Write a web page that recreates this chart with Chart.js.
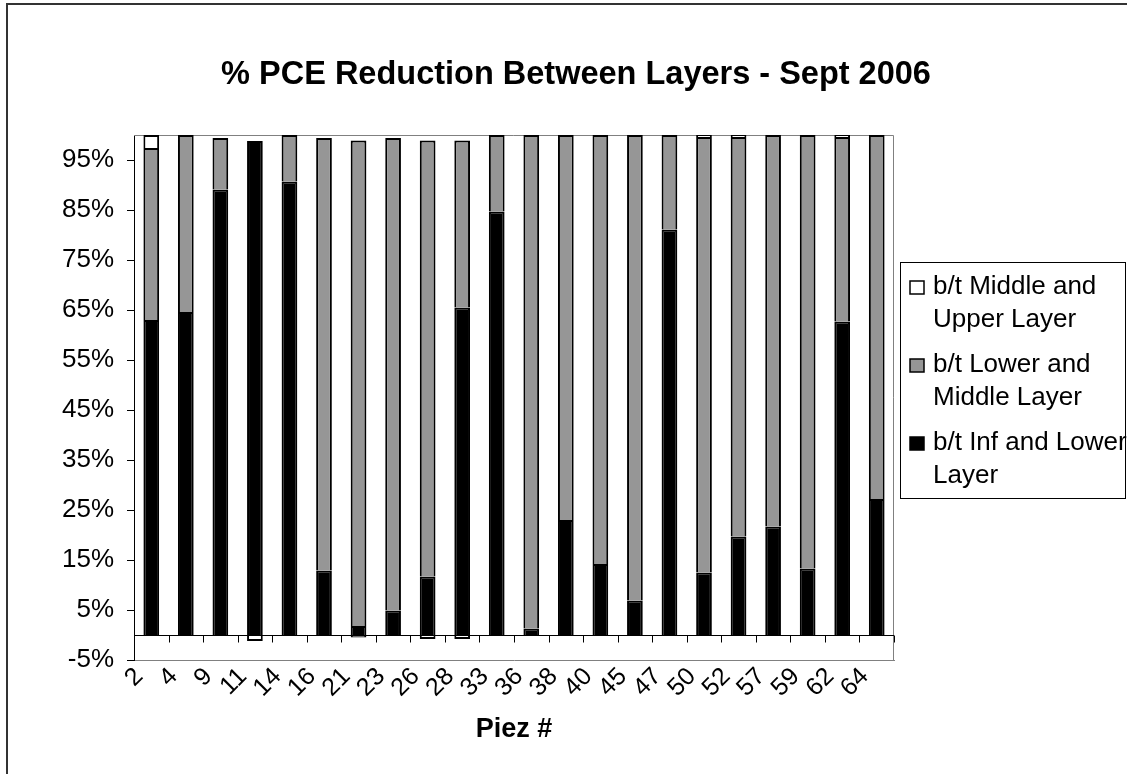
<!DOCTYPE html>
<html>
<head>
<meta charset="utf-8">
<title>% PCE Reduction Between Layers - Sept 2006</title>
<script src="https://cdn.jsdelivr.net/npm/chart.js@4.4.1/dist/chart.umd.min.js"></script>
<style>
  html, body { margin: 0; padding: 0; background: #ffffff; }
  #wrap { width: 1127px; height: 774px; position: relative; overflow: hidden; }
  canvas { display: block; }
</style>
</head>
<body>
<div id="wrap"><canvas id="chart" width="1127" height="774"></canvas></div>
<script>
// Piezometer numbers along the horizontal axis
const piezLabels = ['2', '4', '9', '11', '14', '16', '21', '23', '26', '28', '33',
                    '36', '38', '40', '45', '47', '50', '52', '57', '59', '62', '64'];

// % PCE reduction between influent and lower layer
const infToLower = [63.0, 64.6, 89.1, 98.8, 90.7, 12.9, 1.8, 4.9, 11.7, 65.5, 84.7,
                    1.3, 23.0, 14.2, 6.9, 81.1, 12.5, 19.7, 21.7, 13.3, 62.7, 27.2];

// % PCE reduction between lower and middle layer
const lowerToMiddle = [34.4, 35.4, 10.3, null, 9.3, 86.5, 97.1, 94.5, 87.2, 33.4, 15.3,
                       98.7, 77.0, 85.8, 93.1, 18.9, 87.1, 79.9, 78.3, 86.7, 36.9, 72.8];

// % PCE reduction between middle and upper layer
const middleToUpper = [2.6, null, null, -1.2, null, null, -0.5, null, -0.8, -0.8, null,
                       null, null, null, null, null, 0.4, 0.4, null, null, 0.4, null];

// Value-axis tick positions (percent)
const yTickValues = [-5, 5, 15, 25, 35, 45, 55, 65, 75, 85, 95];

const FONT = "'Liberation Sans', Arial, Helvetica, sans-serif";

// Frame, plot-area border, zero line, title and legend box
const decorations = {
  id: 'decorations',
  beforeDraw(chart) {
    const ctx = chart.ctx;
    ctx.save();
    ctx.fillStyle = '#ffffff';
    ctx.fillRect(0, 0, chart.width, chart.height);
    ctx.strokeStyle = '#333333';
    ctx.lineWidth = 2;
    ctx.strokeRect(7, 4, 1136, 800);
    ctx.restore();
  },
  beforeDatasetsDraw(chart) {
    const { ctx, chartArea: a } = chart;
    ctx.save();
    ctx.strokeStyle = '#808080';
    ctx.lineWidth = 1;
    ctx.beginPath();
    ctx.moveTo(a.left, a.top + 0.5);
    ctx.lineTo(a.right - 0.5, a.top + 0.5);
    ctx.lineTo(a.right - 0.5, a.bottom);
    ctx.stroke();
    ctx.restore();
  },
  afterDatasetsDraw(chart) {
    const { ctx, chartArea: a, scales } = chart;
    const y0 = Math.round(scales.y.getPixelForValue(0)) + 0.5;
    ctx.save();
    ctx.strokeStyle = '#000000';
    ctx.lineWidth = 1;
    ctx.beginPath();
    ctx.moveTo(a.left, y0);
    ctx.lineTo(a.right, y0);
    for (let i = 1; i <= piezLabels.length; i++) {
      const x = Math.round(scales.x.getPixelForValue(i - 0.5)) + 0.5;
      ctx.moveTo(x, y0);
      ctx.lineTo(x, y0 + 7);
    }
    ctx.stroke();
    ctx.restore();
  },
  afterDraw(chart) {
    const ctx = chart.ctx;
    ctx.save();
    // Title
    ctx.fillStyle = '#000000';
    ctx.font = 'bold 32.5px ' + FONT;
    ctx.textAlign = 'center';
    ctx.textBaseline = 'middle';
    ctx.fillText('% PCE Reduction Between Layers - Sept 2006', 576, 75);

    // Legend
    const box = { x: 900, y: 262, w: 225, h: 236 };
    ctx.strokeStyle = '#000000';
    ctx.lineWidth = 1;
    ctx.strokeRect(box.x + 0.5, box.y + 0.5, box.w, box.h);
    ctx.font = '26px ' + FONT;
    ctx.textAlign = 'left';
    ctx.textBaseline = 'alphabetic';
    const sets = chart.data.datasets.slice().reverse();
    const maxWidth = 200;
    sets.forEach((ds, k) => {
      const base = 294 + k * 78;
      ctx.fillStyle = ds.backgroundColor;
      ctx.fillRect(910, base - 13, 14, 13);
      ctx.strokeStyle = '#000000';
      ctx.lineWidth = 1.5;
      ctx.strokeRect(910, base - 13, 14, 13);
      // wrap the label text
      const words = ds.label.split(' ');
      const lines = [];
      let cur = '';
      words.forEach(w => {
        const test = cur ? cur + ' ' + w : w;
        if (ctx.measureText(test).width > maxWidth && cur) {
          lines.push(cur);
          cur = w;
        } else {
          cur = test;
        }
      });
      if (cur) lines.push(cur);
      ctx.fillStyle = '#000000';
      lines.forEach((ln, j) => ctx.fillText(ln, 933, base + j * 33));
    });
    ctx.restore();
  }
};

const barStyle = {
  borderColor: '#000000',
  borderWidth: 2,
  borderSkipped: 'start',
  barPercentage: 0.455,
  categoryPercentage: 1.0
};

new Chart(document.getElementById('chart'), {
  type: 'bar',
  data: {
    labels: piezLabels,
    datasets: [
      Object.assign({ label: 'b/t Inf and Lower Layer', data: infToLower, backgroundColor: '#000000' }, barStyle),
      Object.assign({ label: 'b/t Lower and Middle Layer', data: lowerToMiddle, backgroundColor: '#969696' }, barStyle),
      Object.assign({ label: 'b/t Middle and Upper Layer', data: middleToUpper, backgroundColor: '#ffffff' }, barStyle)
    ]
  },
  options: {
    responsive: false,
    animation: false,
    devicePixelRatio: 1,
    layout: { padding: { left: 10, top: 135, right: 233, bottom: 6 } },
    plugins: {
      legend: { display: false },
      title: { display: false },
      tooltip: { enabled: false }
    },
    scales: {
      x: {
        stacked: true,
        grid: { display: false, offset: true },
        border: { display: true, color: '#808080', width: 1 },
        ticks: {
          autoSkip: false,
          minRotation: 45,
          maxRotation: 45,
          labelOffset: -12,
          padding: -6,
          color: '#000000',
          font: { family: FONT, size: 25 }
        },
        title: {
          display: true,
          text: 'Piez #',
          color: '#000000',
          font: { family: FONT, size: 27, weight: 'bold' },
          padding: { top: 0, bottom: 22 }
        },
        afterFit(scale) { scale.height = 774 - 6 - 660; }
      },
      y: {
        stacked: true,
        min: -5,
        max: 100,
        afterBuildTicks(scale) { scale.ticks = yTickValues.map(v => ({ value: v })); },
        grid: { drawOnChartArea: false, drawTicks: true, tickLength: 7, color: '#000000' },
        border: { display: true, color: '#000000', width: 1 },
        ticks: {
          padding: 13,
          color: '#000000',
          font: { family: FONT, size: 26 },
          callback: v => v + '%'
        },
        afterFit(scale) { scale.width = 124; }
      }
    }
  },
  plugins: [decorations]
});
</script>
</body>
</html>
